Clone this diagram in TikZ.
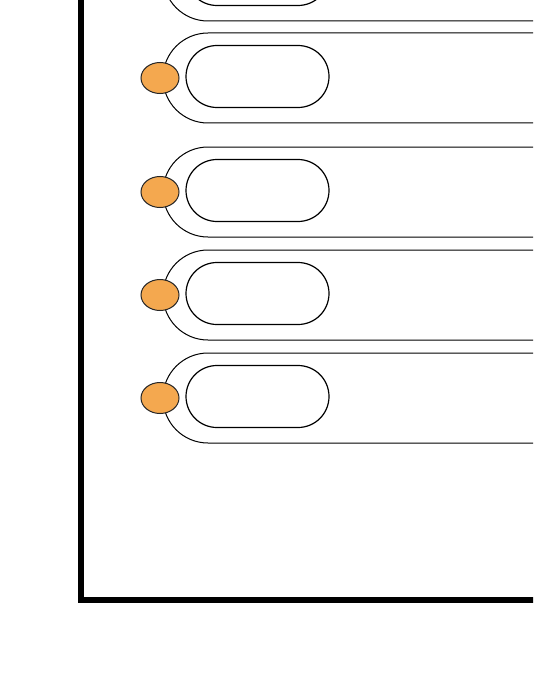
\documentclass[tikz,border=0pt]{standalone}
\usetikzlibrary{shapes.misc,shapes.geometric}
\definecolor{dotorange}{HTML}{F4A84F}
\tikzset{
  outerpill/.style={draw=black, line width=1pt, rounded corners=45pt},
  innerpill/.style={draw=black, line width=1.2pt, rounded rectangle, minimum width=143pt, minimum height=62pt, inner sep=0pt},
  dot/.style={draw=black!85, fill=dotorange, line width=1pt, ellipse, minimum width=38pt, minimum height=31pt, inner sep=0pt},
  frame/.style={draw=black, line width=6pt}
}
\begin{document}
\begin{tikzpicture}[x=1pt,y=-1pt]
\useasboundingbox (0,0) rectangle (533,690);
\clip (0,0) rectangle (533,690);
\fill[white] (0,0) rectangle (533,690);
\coordinate (ftop) at (81,-20);
\coordinate (fcorner) at (81,600);
\coordinate (fright) at (560,600);
\draw[frame] (ftop) -- (fcorner) -- (fright);
\foreach \i/\c in {0/-24,1/78,2/192,3/295,4/398}{
  \draw[outerpill] (163,\c-45) rectangle (640,\c+45);
  \node[innerpill] (inner\i) at (257.5,\c-1.5) {};
  \node[dot] (dot\i) at (160,\c) {};
}
\end{tikzpicture}
\end{document}
